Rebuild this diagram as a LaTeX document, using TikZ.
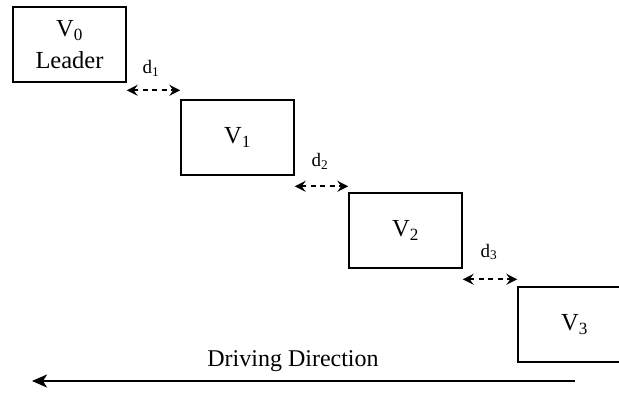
\documentclass[tikz,border=0pt]{standalone}
\usepackage{fontspec}
\setmainfont{Liberation Serif}
\usetikzlibrary{arrows.meta}
\begin{document}
\begin{tikzpicture}[x=1pt,y=-1pt,
  car/.style={draw,line width=1.4pt,minimum width=113pt,minimum height=75pt,inner sep=0pt,
    font=\fontsize{24.5}{32}\selectfont,align=center},
  gap/.style={line width=1.7pt,dash pattern=on 5pt off 4.5pt,{Stealth[length=11pt,width=11pt,inset=4pt]}-{Stealth[length=11pt,width=11pt,inset=4pt]}},
  lbl/.style={font=\fontsize{19}{21}\selectfont,inner sep=0pt},
  dir/.style={line width=1.6pt,-{Stealth[length=15pt,width=13pt,inset=4pt]}}]
\useasboundingbox (0,0) rectangle (619,392);
\begin{scope}
\clip (0,0) rectangle (619,392);
\node[car] (V0) at (69.5,44.5) {V\textsubscript{0}\\Leader};
\node[car] (V1) at (237.5,137.5) {V\textsubscript{1}};
\node[car] (V2) at (405.5,230.5) {V\textsubscript{2}};
\node[car] (V3) at (574.5,324.5) {V\textsubscript{3}};
\end{scope}
\draw[gap] ([yshift=9pt]V1.north west -| V0.east) -- ([yshift=9pt]V1.north west);
\draw[gap] ([yshift=6pt]V2.north west -| V1.east) -- ([yshift=6pt]V2.north west);
\draw[gap] ([yshift=7pt]V3.north west -| V2.east) -- ([yshift=7pt]V3.north west);
\node[lbl] (d1) at (151,68) {d\textsubscript{1}};
\node[lbl] (d2) at (320,161) {d\textsubscript{2}};
\node[lbl] (d3) at (489,252) {d\textsubscript{3}};
\coordinate (ds) at (575,381);
\coordinate (de) at (32,381);
\draw[dir] (ds) -- (de);
\node[font=\fontsize{24}{26}\selectfont,inner sep=0pt] (dd) at (293,361) {Driving Direction};
\end{tikzpicture}
\end{document}
